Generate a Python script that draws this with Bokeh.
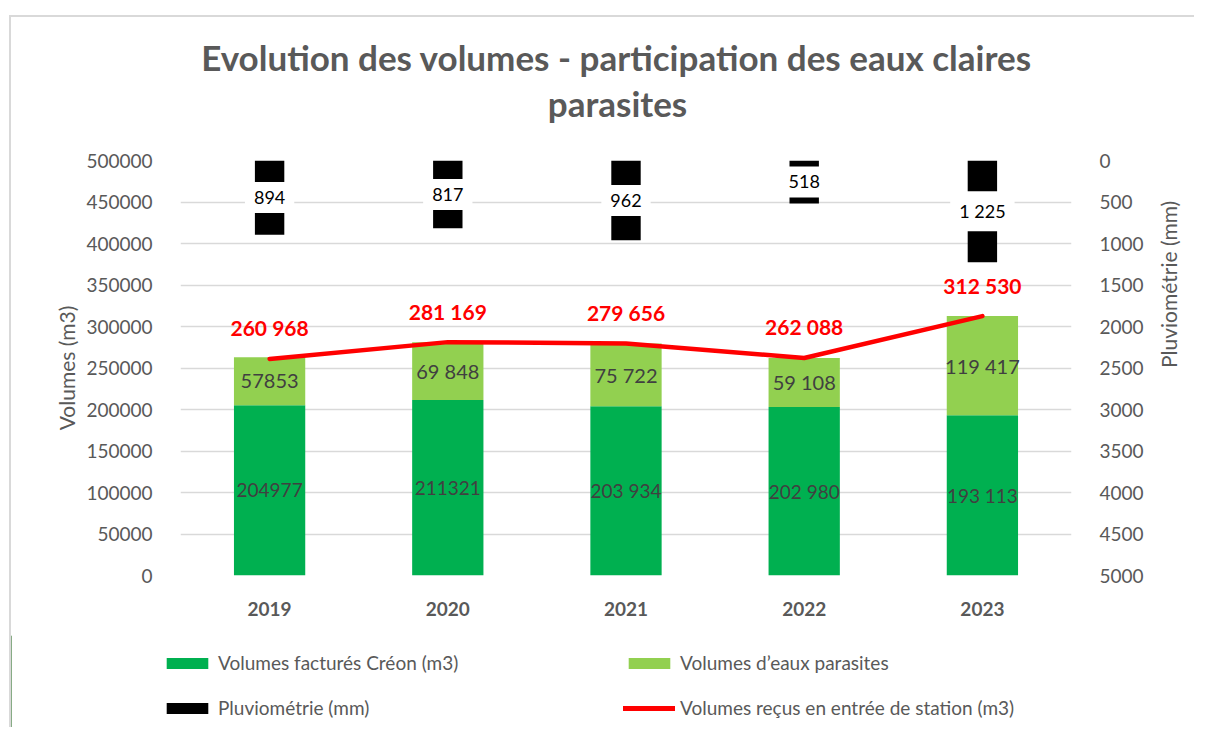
import math
from bokeh.plotting import figure
from bokeh.models import (Range1d, LinearAxis, FixedTicker, BasicTickFormatter, Legend,
                          LegendItem, ColumnDataSource, FactorRange)
from bokeh.core.properties import value
from bokeh.embed import file_html
from bokeh.resources import INLINE

years = ["2019", "2020", "2021", "2022", "2023"]
factures = [204977, 211321, 203934, 202980, 193113]
parasites = [57853, 69848, 75722, 59108, 119417]
recus = [260968, 281169, 279656, 262088, 312530]
pluvio = [894, 817, 962, 518, 1225]
factures_labels = ["204977", "211321", "203 934", "202 980", "193 113"]
parasites_labels = ["57853", "69 848", "75 722", "59 108", "119 417"]
recus_labels = ["260 968", "281 169", "279 656", "262 088", "312 530"]
pluvio_labels = ["894", "817", "962", "518", "1 225"]
left_ticks = list(range(0, 500001, 50000))
right_ticks = list(range(0, 5001, 500))
title_lines = ["Evolution des volumes - participation des eaux claires", "parasites"]

FONT = "Lato"
GRAY = "#595959"
DARK = "#00B050"
LIGHT = "#92D050"
RED = "#FF0000"
BORDER = "2px solid #D9D9D9"
W = 1185

# ---- title strip ----
HT = 120
t = figure(width=W, height=HT, x_range=Range1d(0, W - 2), y_range=Range1d(HT - 2, 0),
           output_backend="svg", toolbar_location=None, min_border=0)
t.margin = (15, 0, 0, 9)
t.styles = {"border-top": BORDER, "border-left": BORDER}
t.axis.visible = False
t.grid.visible = False
t.outline_line_color = None
t.background_fill_color = "white"
t.border_fill_color = "white"
t.text(x=[604, 605], y=[39, 84], text=title_lines, text_align="center",
       text_baseline="middle", text_font=value(FONT), text_font_size="35px",
       text_font_style="bold", text_color=GRAY)

# ---- main chart ----
src = ColumnDataSource(dict(
    years=years, factures=factures, parasites=parasites, recus=recus, pluvio=pluvio,
    top_stack=[a + b for a, b in zip(factures, parasites)],
    fac_mid=[a / 2 for a in factures],
    par_mid=[a + b / 2 for a, b in zip(factures, parasites)],
    plu_mid=[v / 2 for v in pluvio],
    zero=[0] * len(years),
    fl=factures_labels, pl=parasites_labels, rl=recus_labels, ql=pluvio_labels,
))

ML, FW, FH, MB = 169, 895, 415, 60
MT = 160 - 15 - HT
H = MT + FH + MB
p = figure(x_range=FactorRange(*years), y_range=Range1d(0, 500000),
           width=W, height=H, output_backend="svg", toolbar_location=None,
           min_border_left=ML, min_border_right=W - ML - FW,
           min_border_top=MT, min_border_bottom=MB)
p.margin = (0, 0, 0, 9)
p.styles = {"border-left": BORDER}
p.outline_line_color = None
p.background_fill_color = "white"
p.border_fill_color = "white"
p.xgrid.grid_line_color = None
p.ygrid.grid_line_color = "#D9D9D9"
p.ygrid.grid_line_width = 1.3
p.extra_y_ranges = {"pluvio": Range1d(5000, 0)}

p.yaxis.ticker = FixedTicker(ticks=left_ticks)
p.yaxis.formatter = BasicTickFormatter(use_scientific=False)
p.yaxis.axis_label = "Volumes (m3)"
right = LinearAxis(y_range_name="pluvio", ticker=FixedTicker(ticks=right_ticks),
                   formatter=BasicTickFormatter(use_scientific=False),
                   axis_label="Pluviométrie (mm)")
p.add_layout(right, "right")
for ax in [p.yaxis[0], right]:
    ax.axis_line_color = None
    ax.major_tick_line_color = None
    ax.minor_tick_line_color = None
    ax.major_label_text_font = FONT
    ax.major_label_text_font_size = "19px"
    ax.major_label_text_color = GRAY
    ax.major_label_standoff = 22
    ax.axis_label_text_font = FONT
    ax.axis_label_text_font_size = "21px"
    ax.axis_label_text_font_style = "normal"
    ax.axis_label_text_color = GRAY
p.yaxis[0].axis_label_standoff = 4
right.axis_label_standoff = 22
right.axis_label_orientation = math.pi / 2
p.xaxis.axis_line_color = None
p.xaxis.major_tick_line_color = None
p.xaxis.minor_tick_line_color = None
p.xaxis.major_label_text_font = FONT
p.xaxis.major_label_text_font_size = "19px"
p.xaxis.major_label_text_font_style = "bold"
p.xaxis.major_label_text_color = GRAY
p.xaxis.major_label_standoff = 20

p.vbar(x="years", bottom="zero", top="factures", width=0.4, source=src,
       fill_color=DARK, line_color=None)
p.vbar(x="years", bottom="factures", top="top_stack", width=0.4, source=src,
       fill_color=LIGHT, line_color=None)
p.vbar(x="years", bottom="pluvio", top="zero", width=0.165, source=src,
       fill_color="black", line_color=None, y_range_name="pluvio")
p.line(x="years", y="recus", source=src, line_color=RED, line_width=4.5,
       line_cap="round", line_join="round")

p.text(x="years", y="fac_mid", text="fl", source=src, text_align="center",
       text_baseline="middle", text_font=value(FONT),
       text_font_size="19px", text_color="#404040")
p.text(x="years", y="par_mid", text="pl", source=src, text_align="center",
       text_baseline="middle", text_font=value(FONT), text_font_size="20px",
       text_color="#404040")
p.text(x="years", y="plu_mid", text="ql", source=src, text_align="center",
       text_baseline="middle", text_font=value(FONT), text_font_size="18px",
       text_color="black", background_fill_color="white", padding=9,
       y_range_name="pluvio")
p.text(x="years", y="recus", text="rl", source=src, text_align="center",
       text_baseline="middle", text_font=value(FONT), text_font_size="21px",
       text_font_style="bold", text_color=RED, y_offset=-31)

# ---- legend strip (two columns = two legends) ----
q = figure(width=W, height=92, x_range=Range1d(0, 1), y_range=Range1d(0, 1),
           output_backend="svg", toolbar_location=None, min_border=0)
q.margin = (0, 0, 0, 9)
q.styles = {"border-left": BORDER}
q.axis.visible = False
q.grid.visible = False
q.outline_line_color = None
q.background_fill_color = "white"
q.border_fill_color = "white"
off = [-5]
g_fac = q.vbar(x=off, top=[1], width=0.1, fill_color=DARK, line_color=None)
g_par = q.vbar(x=off, top=[1], width=0.1, fill_color=LIGHT, line_color=None)
g_plu = q.vbar(x=off, top=[1], width=0.1, fill_color="black", line_color=None)
g_rec = q.line(x=[-5, -4], y=[0, 0], line_color=RED, line_width=5, line_cap="round")


def make_legend(items, loc):
    lg = Legend(items=items, location=loc, orientation="vertical")
    lg.padding = 0
    lg.margin = 0
    lg.border_line_color = None
    lg.background_fill_alpha = 0
    lg.glyph_width = 52
    lg.glyph_height = 14
    lg.label_standoff = 5
    lg.spacing = 22
    lg.label_text_font = FONT
    lg.label_text_font_size = "19px"
    lg.label_text_color = GRAY
    q.add_layout(lg, "center")


make_legend([LegendItem(label="Volumes facturés Créon (m3)", renderers=[g_fac]),
             LegendItem(label="Pluviométrie (mm)", renderers=[g_plu])], (150, 8))
make_legend([LegendItem(label="Volumes d’eaux parasites", renderers=[g_par]),
             LegendItem(label="Volumes reçus en entrée de station (m3)", renderers=[g_rec])],
            (612, 8))

open("out.html", "w").write(file_html([t, p, q], INLINE))
